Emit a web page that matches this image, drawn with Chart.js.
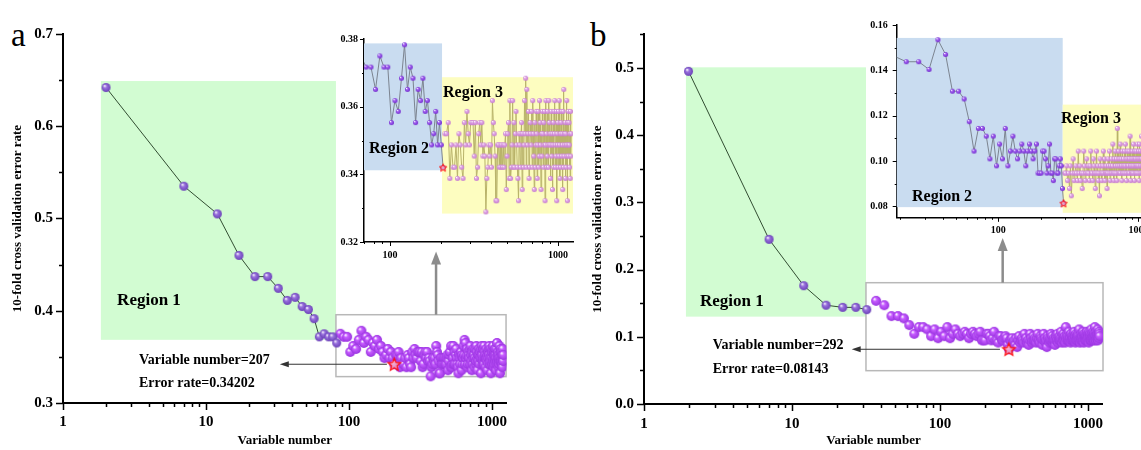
<!DOCTYPE html>
<html>
<head>
<meta charset="utf-8">
<script src="https://cdn.jsdelivr.net/npm/chart.js@4"></script>
<style>
  body { margin: 0; background: #fff; width: 1141px; height: 450px; overflow: hidden; position: relative; font-family: "Liberation Serif", serif; }
  canvas { position: absolute; }
  .tag { position: absolute; font-size: 33px; line-height: 1; color: #000; }
</style>
</head>
<body>
<div class="tag" style="left:11px;top:19px">a</div>
<div class="tag" style="left:590px;top:19px">b</div>
<canvas id="mainA" width="570" height="450" style="left:0;top:0"></canvas>
<canvas id="insetA" width="245" height="250" style="left:335px;top:25px"></canvas>
<canvas id="mainB" width="561" height="450" style="left:580px;top:0"></canvas>
<canvas id="insetB" width="320" height="240" style="left:855px;top:10px"></canvas>
<script>
// 10-fold CV error rate against number of retained variables (every 5th count, 2 ... 1197)
const errA = [
  0.642, 0.535, 0.505, 0.460, 0.437, 0.437, 0.4243, 0.4112, 0.4145, 0.4046,
  0.4013, 0.3914, 0.3717, 0.3750, 0.3717, 0.3717, 0.3651,
  0.3750, 0.3717, 0.3717, 0.3553, 0.3618, 0.3586, 0.3684, 0.3783, 0.3651, 0.3717,
  0.3684, 0.3553, 0.3651, 0.3618, 0.3684, 0.3586, 0.3618, 0.3553, 0.3487, 0.3520,
  0.3586, 0.3487, 0.3553, 0.3487, 0.34202,
  0.3520, 0.3520, 0.3553, 0.3388, 0.3487, 0.3421, 0.3421, 0.3487, 0.3388, 0.3520,
  0.3487, 0.3421, 0.3388, 0.3553, 0.3487, 0.3586, 0.3520, 0.3487, 0.3553, 0.3553,
  0.3553, 0.3454, 0.3553, 0.3388, 0.3421, 0.3520, 0.3553, 0.3487, 0.3553, 0.3454,
  0.3487, 0.3454, 0.3289, 0.3388, 0.3421, 0.3487, 0.3454, 0.3487, 0.3421, 0.3618,
  0.3553, 0.3520, 0.3454, 0.3322, 0.3322, 0.3487, 0.3487, 0.3421, 0.3487, 0.3421,
  0.3487, 0.3421, 0.3487, 0.3421, 0.3487, 0.3520, 0.3355, 0.3454, 0.3520, 0.3553,
  0.3388, 0.3618, 0.3388, 0.3421, 0.3487, 0.3618, 0.3421, 0.3553, 0.3421, 0.3520,
  0.3586, 0.3487, 0.3421, 0.3388, 0.3322, 0.3520, 0.3487, 0.3421, 0.3520, 0.3553,
  0.3355, 0.3520, 0.3421, 0.3487, 0.3618, 0.3520, 0.3684, 0.3421, 0.3651, 0.3487,
  0.3520, 0.3586, 0.3388, 0.3421, 0.3553, 0.3520, 0.3487, 0.3586, 0.3421, 0.3618,
  0.3520, 0.3454, 0.3355, 0.3553, 0.3421, 0.3487, 0.3586, 0.3520, 0.3388, 0.3487,
  0.3586, 0.3421, 0.3454, 0.3618, 0.3553, 0.3487, 0.3355, 0.3520, 0.3454, 0.3586,
  0.3520, 0.3421, 0.3553, 0.3487, 0.3586, 0.3322, 0.3487, 0.3618, 0.3520, 0.3421,
  0.3454, 0.3586, 0.3487, 0.3421, 0.3618, 0.3553, 0.3487, 0.3520, 0.3388, 0.3487,
  0.3586, 0.3454, 0.3520, 0.3355, 0.3487, 0.3553, 0.3421, 0.3586, 0.3520, 0.3618,
  0.3487, 0.3421, 0.3454, 0.3586, 0.3322, 0.3520, 0.3487, 0.3553, 0.3421, 0.3586,
  0.3454, 0.3618, 0.3487, 0.3388, 0.3520, 0.3421, 0.3553, 0.3586, 0.3454, 0.3520,
  0.3487, 0.3355, 0.3586, 0.3421, 0.3651, 0.3454, 0.3520, 0.3487, 0.3553, 0.3388,
  0.3520, 0.3421, 0.3487, 0.3618, 0.3454, 0.3322, 0.3553, 0.3487, 0.3586, 0.3454,
  0.3553, 0.3487, 0.3421, 0.3520, 0.3388, 0.3586, 0.3454, 0.3520
];
const errB = [
  0.495, 0.245, 0.176, 0.147, 0.1438, 0.1438, 0.1404,
  0.1535, 0.1470, 0.1308, 0.1308, 0.1274, 0.1174, 0.1044, 0.1144, 0.1144, 0.1110,
  0.1010, 0.1110, 0.0979, 0.1075, 0.1010, 0.1144, 0.0979, 0.1044, 0.1110, 0.1044,
  0.1010, 0.1044, 0.1075, 0.1044, 0.0979, 0.1044, 0.1075, 0.1044, 0.1010, 0.1044,
  0.1075, 0.0947, 0.0947, 0.0947, 0.1044, 0.1044, 0.1010, 0.0947, 0.0979, 0.1075,
  0.0947, 0.0947, 0.0914, 0.1010, 0.1010, 0.0947, 0.0947, 0.0979, 0.1010, 0.0979,
  0.0879, 0.08143,
  0.0947, 0.0947, 0.0979, 0.0914, 0.0947, 0.0879, 0.0979, 0.0847, 0.0947, 0.1010,
  0.0914, 0.0947, 0.0979, 0.0947, 0.0914, 0.1044, 0.0947, 0.0979, 0.0914, 0.0947,
  0.0879, 0.0947, 0.1044, 0.0979, 0.0914, 0.0947, 0.1010, 0.0947, 0.0979, 0.0947,
  0.0914, 0.0979, 0.1044, 0.0947, 0.0947, 0.0914, 0.1010, 0.0979, 0.0947, 0.0879,
  0.0947, 0.1044, 0.0947, 0.0979, 0.0914, 0.0947, 0.0847, 0.1010, 0.0979, 0.0947,
  0.0914, 0.0947, 0.0979, 0.1044, 0.0947, 0.1010, 0.0914, 0.0947, 0.0979, 0.0947,
  0.0879, 0.0947, 0.1010, 0.0979, 0.0947, 0.1044, 0.0914, 0.0979, 0.0947, 0.1010,
  0.0947, 0.0979, 0.1075, 0.0947, 0.0914, 0.1010, 0.0947, 0.1044, 0.0979, 0.0947,
  0.1010, 0.0914, 0.1144, 0.0979, 0.0947, 0.1044, 0.1010, 0.0947, 0.0979, 0.1075,
  0.0947, 0.1010, 0.0979, 0.0914, 0.1044, 0.0947, 0.0979, 0.1010, 0.0947, 0.0979,
  0.1044, 0.0947, 0.1075, 0.0979, 0.1010, 0.0914, 0.0947, 0.1044, 0.0979, 0.1010,
  0.0947, 0.0979, 0.1044, 0.1010, 0.0947, 0.1110, 0.0979, 0.0914, 0.1010, 0.0947,
  0.0979, 0.1044, 0.0947, 0.1010, 0.0979, 0.1075, 0.0947, 0.1010, 0.0914, 0.1044,
  0.0979, 0.1010, 0.0947, 0.1044, 0.0979, 0.0947, 0.1010, 0.1075, 0.0979, 0.0947,
  0.1010, 0.1044, 0.0979, 0.0914, 0.1075, 0.1010, 0.0947, 0.1044, 0.0979, 0.1010,
  0.0947, 0.1110, 0.1010, 0.0979, 0.1044, 0.0947, 0.0979, 0.1010, 0.1075, 0.0979,
  0.1044, 0.0947, 0.1010, 0.1144, 0.0979, 0.1044, 0.1010, 0.0947, 0.1075, 0.1010,
  0.0979, 0.1044, 0.1010, 0.1110, 0.0947, 0.1010, 0.1044, 0.0979, 0.1075, 0.1044,
  0.1010
];
// variable counts are sampled in steps of 5 starting at 2
const varNums = errA.map((_, i) => 2 + 5 * i);

// optimum of each run
const bestVarA = 207, bestErrA = 0.34202;
const bestVarB = 292, bestErrB = 0.08143;

// region limits (last variable count belonging to region 1 / region 2)
const regionA = [82, 207];
const regionB = [32, 292];

// axis ticks
const logTicks = [1, 2, 3, 4, 5, 6, 7, 8, 9, 10, 20, 30, 40, 50, 60, 70, 80, 90,
  100, 200, 300, 400, 500, 600, 700, 800, 900, 1000];
const decades = [1, 10, 100, 1000];
const yTicksA = [0.3, 0.35, 0.4, 0.45, 0.5, 0.55, 0.6, 0.65, 0.7];
const yLabelsA = [0.3, 0.4, 0.5, 0.6, 0.7];
const yTicksB = [0, 0.05, 0.1, 0.15, 0.2, 0.25, 0.3, 0.35, 0.4, 0.45, 0.5, 0.55];
const yLabelsB = [0, 0.1, 0.2, 0.3, 0.4, 0.5];
const yTicksInA = [0.32, 0.33, 0.34, 0.35, 0.36, 0.37, 0.38];
const yLabelsInA = [0.32, 0.34, 0.36, 0.38];
const yTicksInB = [0.08, 0.09, 0.1, 0.11, 0.12, 0.13, 0.14, 0.15, 0.16];
const yLabelsInB = [0.08, 0.1, 0.12, 0.14, 0.16];

const SERIF = '"Liberation Serif", "Times New Roman", serif';

// shaded sphere marker
function ball(d, base, shade) {
  const c = document.createElement('canvas');
  c.width = c.height = Math.ceil(d) + 2;
  const g = c.getContext('2d');
  const r = d / 2, cx = c.width / 2, cy = c.height / 2;
  const grad = g.createRadialGradient(cx - r * 0.35, cy - r * 0.4, r * 0.05, cx, cy, r);
  grad.addColorStop(0, '#ffffff');
  grad.addColorStop(0.35, base);
  grad.addColorStop(1, shade);
  g.fillStyle = grad;
  g.beginPath();
  g.arc(cx, cy, r, 0, Math.PI * 2);
  g.fill();
  return c;
}

function star(d, lw) {
  const c = document.createElement('canvas');
  c.width = c.height = Math.ceil(d) + 4;
  const g = c.getContext('2d');
  const cx = c.width / 2, cy = c.height / 2 + 0.5, R = d / 2, r = R * 0.45;
  g.beginPath();
  for (let i = 0; i < 10; i++) {
    const a = -Math.PI / 2 + i * Math.PI / 5;
    const rr = i % 2 ? r : R;
    g.lineTo(cx + rr * Math.cos(a), cy + rr * Math.sin(a));
  }
  g.closePath();
  g.fillStyle = 'rgba(255,190,190,0.7)';
  g.fill();
  g.strokeStyle = '#ff1010';
  g.lineWidth = lw;
  g.stroke();
  return c;
}

const balls = {
  r1: ball(9, '#9a72de', '#6b40b8'),
  cluster: ball(10, '#c65cff', '#9a34e0'),
  r2: ball(5, '#a05cf2', '#7430cc'),
  r3: ball(5, '#e2a6e8', '#c47ccc')
};

function pts(lo, hi, errs) {
  const out = [];
  varNums.forEach((v, i) => { if (v >= lo && v <= hi) out.push({x: v, y: errs[i]}); });
  return out;
}

// outward tick marks, long on labelled values and short elsewhere
function tickMarks(o) {
  return {
    id: 'tickMarks',
    afterDraw(chart) {
      const {ctx, scales: {x, y}} = chart;
      ctx.save();
      ctx.strokeStyle = '#000';
      ctx.lineWidth = o.width;
      ctx.beginPath();
      x.ticks.forEach(t => {
        const px = Math.round(x.getPixelForValue(t.value)) + 0.5;
        const len = decades.includes(t.value) ? o.major : o.minor;
        ctx.moveTo(px, x.top);
        ctx.lineTo(px, x.top + len);
      });
      y.ticks.forEach(t => {
        const py = Math.round(y.getPixelForValue(t.value)) + 0.5;
        const len = o.yMajor.includes(t.value) ? o.major : o.minor;
        ctx.moveTo(y.right, py);
        ctx.lineTo(y.right - len, py);
      });
      ctx.stroke();
      ctx.restore();
    }
  };
}

function arrow(ctx, x0, y0, x1, y1, color, width, len, half) {
  const a = Math.atan2(y1 - y0, x1 - x0);
  ctx.strokeStyle = color;
  ctx.fillStyle = color;
  ctx.lineWidth = width;
  ctx.beginPath();
  ctx.moveTo(x0, y0);
  ctx.lineTo(x1 - Math.cos(a) * len * 0.8, y1 - Math.sin(a) * len * 0.8);
  ctx.stroke();
  ctx.beginPath();
  ctx.moveTo(x1, y1);
  ctx.lineTo(x1 - Math.cos(a) * len - Math.sin(a) * half, y1 - Math.sin(a) * len + Math.cos(a) * half);
  ctx.lineTo(x1 - Math.cos(a) * len + Math.sin(a) * half, y1 - Math.sin(a) * len - Math.cos(a) * half);
  ctx.closePath();
  ctx.fill();
}

// shaded regions, boxes, arrows and notes, all placed in data units
function decor(o) {
  return {
    id: 'decor',
    beforeDatasetsDraw(chart) {
      const {ctx, scales: {x, y}} = chart;
      ctx.save();
      (o.boxes || []).forEach(b => {
        const l = x.getPixelForValue(b.x[0]), r = x.getPixelForValue(b.x[1]);
        const t = y.getPixelForValue(b.y[1]), btm = y.getPixelForValue(b.y[0]);
        if (b.fill) { ctx.fillStyle = b.fill; ctx.fillRect(l, t, r - l, btm - t); }
        if (b.stroke) { ctx.strokeStyle = b.stroke; ctx.lineWidth = 1.5; ctx.strokeRect(l, t, r - l, btm - t); }
      });
      ctx.restore();
    },
    afterDatasetsDraw(chart) {
      const {ctx, scales: {x, y}} = chart;
      ctx.save();
      (o.arrows || []).forEach(a => {
        arrow(ctx, x.getPixelForValue(a.from[0]), y.getPixelForValue(a.from[1]),
          x.getPixelForValue(a.to[0]), y.getPixelForValue(a.to[1]), a.color, a.width, a.head[0], a.head[1]);
      });
      ctx.fillStyle = '#000';
      ctx.textAlign = 'left';
      ctx.textBaseline = 'middle';
      (o.notes || []).forEach(n => {
        ctx.font = 'bold ' + n.size + 'px ' + SERIF;
        ctx.fillText(n.text, x.getPixelForValue(n.at[0]), y.getPixelForValue(n.at[1]));
      });
      ctx.restore();
    }
  };
}

function xAxis(min, max, o) {
  return {
    type: 'logarithmic', min, max,
    afterBuildTicks: s => { s.ticks = logTicks.filter(v => v >= min && v <= max).map(v => ({value: v})); },
    afterFit: s => { s.height = o.height; },
    grid: {display: false, drawTicks: false},
    border: {color: '#000', width: o.line},
    ticks: {
      autoSkip: false, maxRotation: 0, padding: o.pad, color: '#000',
      font: {family: SERIF, size: o.size, weight: 'bold'},
      callback: v => decades.includes(v) ? String(v) : ''
    },
    title: o.title ? {display: true, text: o.title, color: '#000', padding: {top: 0, bottom: 2},
      font: {family: SERIF, size: 13, weight: 'bold'}} : {display: false}
  };
}

function yAxis(min, max, list, labels, o) {
  return {
    min, max,
    afterBuildTicks: s => { s.ticks = list.map(v => ({value: v})); },
    afterFit: s => { s.width = o.width; },
    grid: {display: false, drawTicks: false},
    border: {color: '#000', width: o.line},
    ticks: {
      autoSkip: false, padding: o.pad, color: '#000',
      font: {family: SERIF, size: o.size, weight: 'bold'},
      callback: v => labels.includes(v) ? v.toFixed(o.digits) : ''
    },
    title: o.title ? {display: true, text: o.title, color: '#000', padding: {top: 10, bottom: 0},
      font: {family: SERIF, size: 13, weight: 'bold'}} : {display: false}
  };
}

function build(id, datasets, scales, padding, marks, decorOpts) {
  return new Chart(document.getElementById(id), {
    type: 'scatter',
    data: {datasets},
    options: {
      responsive: false, animation: false, events: [],
      layout: {padding},
      scales,
      plugins: {legend: {display: false}, tooltip: {enabled: false}}
    },
    plugins: [tickMarks(marks), decor(decorOpts)]
  });
}

// ---- panel a: full range ----
build('mainA', [
  {data: [{x: bestVarA, y: bestErrA}], pointStyle: star(13, 1.3), order: 0},
  {data: pts(1, regionA[0], errA), showLine: true, borderColor: '#324d32', borderWidth: 1, pointStyle: balls.r1, order: 1},
  {data: pts(regionA[0] + 1, 2000, errA), pointStyle: balls.cluster, order: 2}
], {
  x: xAxis(1, 1260, {height: 47, pad: 10, size: 15, line: 2, title: 'Variable number'}),
  y: yAxis(0.3, 0.7, yTicksA, yLabelsA, {width: 63, pad: 10, size: 15, line: 2, digits: 1, title: '10-fold cross validation error rate'})
}, {top: 34, right: 63.6, left: 0, bottom: 0}, {width: 1.5, major: 7, minor: 4, yMajor: yLabelsA}, {
  boxes: [
    {x: [1.84, 81], y: [0.3685, 0.649], fill: '#d2fcd2'},
    {x: [81, 1253], y: [0.3286, 0.3957], stroke: '#b8b8b8'}
  ],
  arrows: [
    {from: [184, bestErrA], to: [32.8, bestErrA], color: '#333', width: 1, head: [9, 3]},
    {from: [406, 0.3957], to: [406, 0.4641], color: '#8c8c8c', width: 2.5, head: [13, 5]}
  ],
  notes: [
    {text: 'Region 1', at: [2.39, 0.4112], size: 17},
    {text: 'Variable number=' + bestVarA, at: [3.40, 0.3467], size: 14},
    {text: 'Error rate=' + bestErrA.toFixed(5), at: [3.40, 0.3217], size: 14}
  ]
});

// ---- panel a: zoomed view of regions 2 and 3 ----
build('insetA', [
  {data: [{x: bestVarA, y: bestErrA}], pointStyle: star(8, 1), order: 0},
  {data: pts(1, regionA[1], errA), showLine: true, borderColor: '#7c8490', borderWidth: 1, pointStyle: balls.r2, order: 1},
  {data: pts(regionA[1] + 1, 2000, errA), showLine: true, borderColor: '#b9b36a', borderWidth: 1, pointStyle: balls.r3, order: 2}
], {
  x: xAxis(70, 1228, {height: 33, pad: 7, size: 10, line: 1.5}),
  y: yAxis(0.32, 0.38, yTicksInA, yLabelsInA, {width: 29, pad: 6, size: 10, line: 1.5, digits: 2})
}, {top: 14, right: 7, left: 0, bottom: 0}, {width: 1, major: 4, minor: 2, yMajor: yLabelsInA}, {
  boxes: [
    {x: [70, 204], y: [0.3412, 0.3787], fill: '#c9dcf0'},
    {x: [204, 1228], y: [0.3284, 0.3687], fill: '#fdfdc0'}
  ],
  notes: [
    {text: 'Region 2', at: [75, 0.3476], size: 16},
    {text: 'Region 3', at: [206.7, 0.3641], size: 16}
  ]
});

// ---- panel b: full range ----
build('mainB', [
  {data: [{x: bestVarB, y: bestErrB}], pointStyle: star(13, 1.3), order: 0},
  {data: pts(1, regionB[0], errB), showLine: true, borderColor: '#324d32', borderWidth: 1, pointStyle: balls.r1, order: 1},
  {data: pts(regionB[0] + 1, 2000, errB), pointStyle: balls.cluster, order: 2}
], {
  x: xAxis(1, 1260, {height: 46, pad: 11, size: 15, line: 2, title: 'Variable number'}),
  y: yAxis(0, 0.55, yTicksB, yLabelsB, {width: 64, pad: 10, size: 15, line: 2, digits: 1, title: '10-fold cross validation error rate'})
}, {top: 34.4, right: 38.1, left: 0, bottom: 0}, {width: 1.5, major: 7, minor: 4, yMajor: yLabelsB}, {
  boxes: [
    {x: [1.92, 31.6], y: [0.13, 0.501], fill: '#d2fcd2'},
    {x: [31.6, 1262], y: [0.0496, 0.1805], stroke: '#b8b8b8'}
  ],
  arrows: [
    {from: [254, bestErrB], to: [25.3, bestErrB], color: '#333', width: 1, head: [9, 3]},
    {from: [265, 0.1805], to: [265, 0.247], color: '#8c8c8c', width: 2.5, head: [13, 5]}
  ],
  notes: [
    {text: 'Region 1', at: [2.39, 0.1522], size: 17},
    {text: 'Variable number=' + bestVarB, at: [2.91, 0.0878], size: 14},
    {text: 'Error rate=' + bestErrB.toFixed(5), at: [2.91, 0.0521], size: 14}
  ]
});

// ---- panel b: zoomed view of regions 2 and 3 ----
build('insetB', [
  {data: [{x: bestVarB, y: bestErrB}], pointStyle: star(8, 1), order: 0},
  {data: pts(1, regionB[1], errB), showLine: true, borderColor: '#7c8490', borderWidth: 1, pointStyle: balls.r2, order: 1},
  {data: pts(regionB[1] + 1, 2000, errB), showLine: true, borderColor: '#b9b36a', borderWidth: 1, pointStyle: balls.r3, order: 2}
], {
  x: xAxis(18.8, 1250, {height: 32.2, pad: 7, size: 10, line: 1.5}),
  y: yAxis(0.075, 0.16, yTicksInB, yLabelsInB, {width: 41.7, pad: 9, size: 10, line: 1.5, digits: 2})
}, {top: 8.9, right: 23, left: 0, bottom: 0}, {width: 1, major: 4, minor: 2, yMajor: yLabelsInB}, {
  boxes: [
    {x: [18.8, 288], y: [0.0797, 0.1543], fill: '#c9dcf0'},
    {x: [288, 1250], y: [0.0772, 0.1249], fill: '#fdfdc0'}
  ],
  notes: [
    {text: 'Region 2', at: [24.2, 0.0843], size: 16},
    {text: 'Region 3', at: [280, 0.1185], size: 16}
  ]
});
</script>
</body>
</html>
